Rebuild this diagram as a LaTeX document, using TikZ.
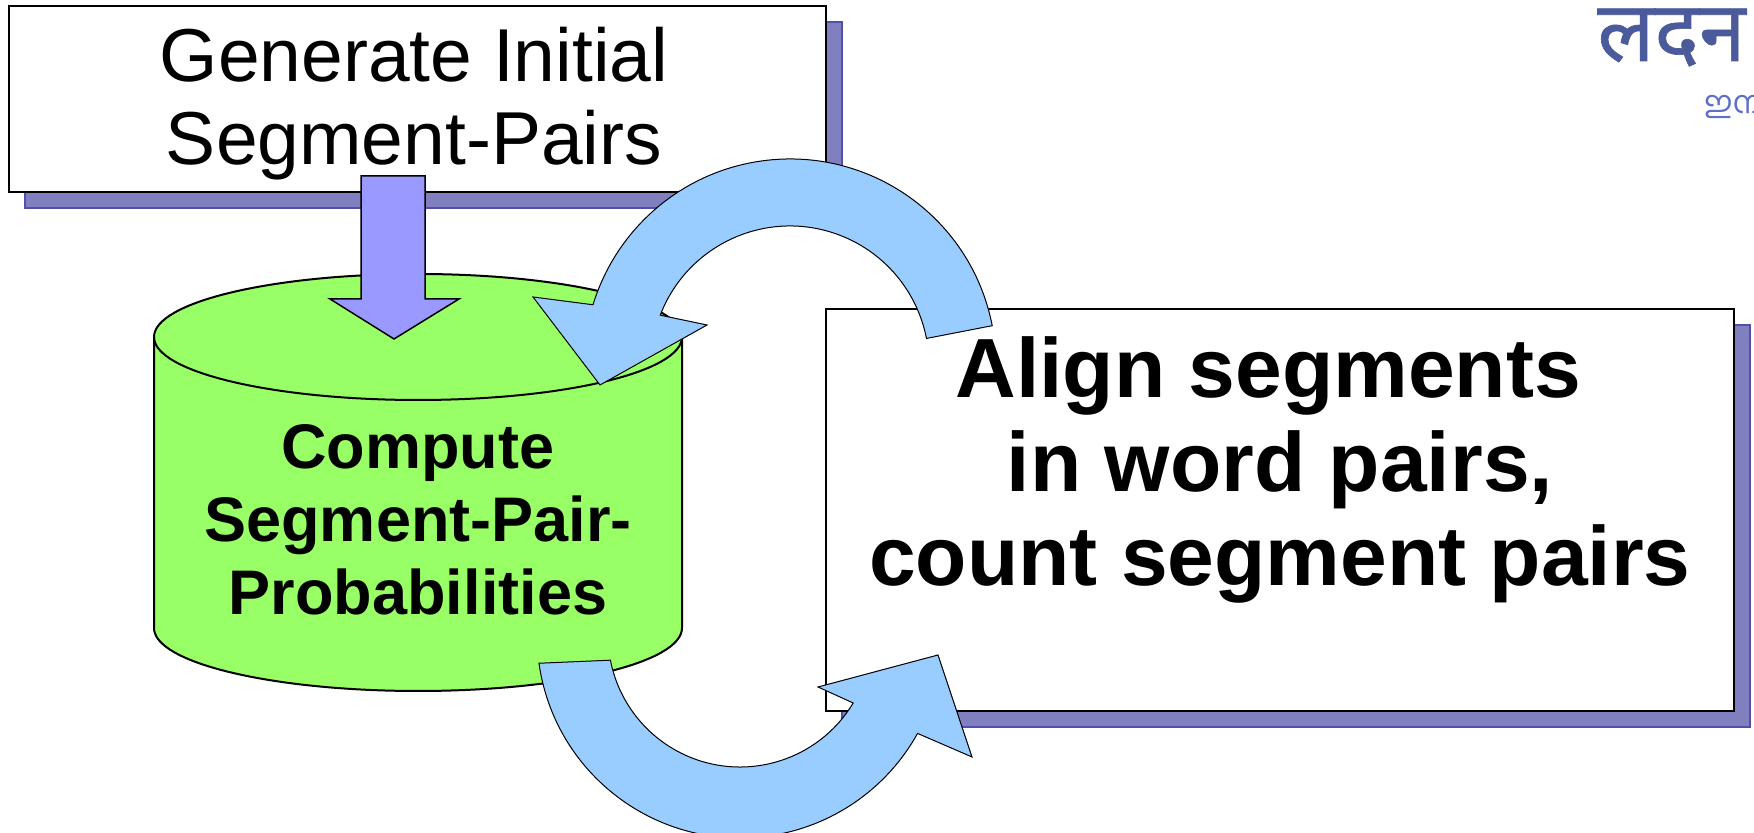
\documentclass[tikz,border=0pt]{standalone}
\usepackage{fontspec}
\setmainfont{Liberation Sans}
\newfontfamily\devfont[Script=Devanagari, FakeBold=0.8]{Noto Sans}
\newfontfamily\malfont[Script=Malayalam]{Hind Kochi}
\usetikzlibrary{shadows,calc}
\definecolor{shadowblue}{RGB}{128,128,192}
\definecolor{shadowedge}{RGB}{80,80,170}
\definecolor{cylgreen}{RGB}{153,255,102}
\definecolor{downblue}{RGB}{153,153,255}
\definecolor{loopblue}{RGB}{153,204,255}
\definecolor{devblue}{RGB}{75,90,155}
\definecolor{malblue}{RGB}{95,110,200}
\tikzset{
  boxstyle/.style={draw=black, line width=1.25pt, fill=white,
    drop shadow={shadow xshift=8pt, shadow yshift=-8pt, opacity=1,
      fill=shadowblue, draw=shadowedge, line width=0.6pt}},
  curvedarrow/.style={draw=black, line width=0.5pt, fill=loopblue},
  downarrow/.style={draw=black, line width=0.75pt, fill=downblue},
  cylline/.style={draw=black, line width=1pt}
}
\begin{document}
\begin{tikzpicture}[x=0.5pt,y=0.5pt]
\useasboundingbox (0,0) rectangle (1754,833);

% top box
\node[boxstyle, minimum width=408.5pt, minimum height=93pt, inner sep=0] (init) at (417.5,734) {};
\node[font=\fontsize{37.5}{41.5}\selectfont, align=center, inner sep=0] (inittext) at (414,729)
  {Generate Initial\\Segment-Pairs};

% right box
\node[boxstyle, minimum width=454pt, minimum height=201pt, inner sep=0] (alignbox) at (1280,323) {};
\node[font=\bfseries\fontsize{42}{47}\selectfont, align=center, inner sep=0] (aligntext) at (1280,363.5)
  {Align segments\hspace*{0.28em}\\in word pairs,\\count segment pairs};

% cylinder
\coordinate (cyltop) at (418,496);
\coordinate (cylbot) at (418,205);
\fill[cylgreen] ($(cyltop)+(-132pt,0)$) -- ($(cylbot)+(-132pt,0)$)
  arc[start angle=180, end angle=360, x radius=132pt, y radius=31.5pt]
  -- ($(cyltop)+(132pt,0)$)
  arc[start angle=0, end angle=180, x radius=132pt, y radius=31.5pt] -- cycle;
\draw[cylline] ($(cyltop)+(-132pt,0)$) -- ($(cylbot)+(-132pt,0)$)
  arc[start angle=180, end angle=360, x radius=132pt, y radius=31.5pt]
  -- ($(cyltop)+(132pt,0)$);
\draw[cylline] (cyltop) ellipse[x radius=132pt, y radius=31.5pt];
\node[font=\bfseries\fontsize{31.5}{36.5}\selectfont, align=center, inner sep=0] (compute) at (418,313)
  {Compute\\Segment-Pair-\\Probabilities};

% down arrow
\coordinate (dtip) at (394,494);
\draw[downarrow] (dtip) -- ++(65,40) -- ++(-34,0) -- ++(0,123) -- ++(-64,0)
  -- ++(0,-123) -- ++(-31,0) -- cycle;

% upper curved arrow
\coordinate (C1) at (790,468);
\draw[curvedarrow] ($(C1)+(11:103pt)$) arc[start angle=11, end angle=163, radius=103pt]
  -- (533,536) -- (600,448) -- (707,508)
  -- ($(C1)+(159:69.5pt)$) arc[start angle=159, end angle=11, radius=69.5pt] -- cycle;

% lower curved arrow
\coordinate (C2) at (740,198);
\draw[curvedarrow] ($(C2)+(188:101.5pt)$) arc[start angle=188, end angle=331, radius=101.5pt]
  -- (972,76) -- (938,178) -- (818,146)
  -- ($(C2)+(329:66pt)$) arc[start angle=329, end angle=191, radius=66pt] -- cycle;

% corner texts
\node[anchor=base east, inner sep=0, text=devblue, font=\devfont\fontsize{42}{42}\selectfont] (hindi) at (1746,772) {लदन};
\node[anchor=base west, inner sep=0, text=malblue, font=\malfont\fontsize{15.5}{15.5}\selectfont] (mal) at (1704,719) {ഇന};
\end{tikzpicture}
\end{document}
